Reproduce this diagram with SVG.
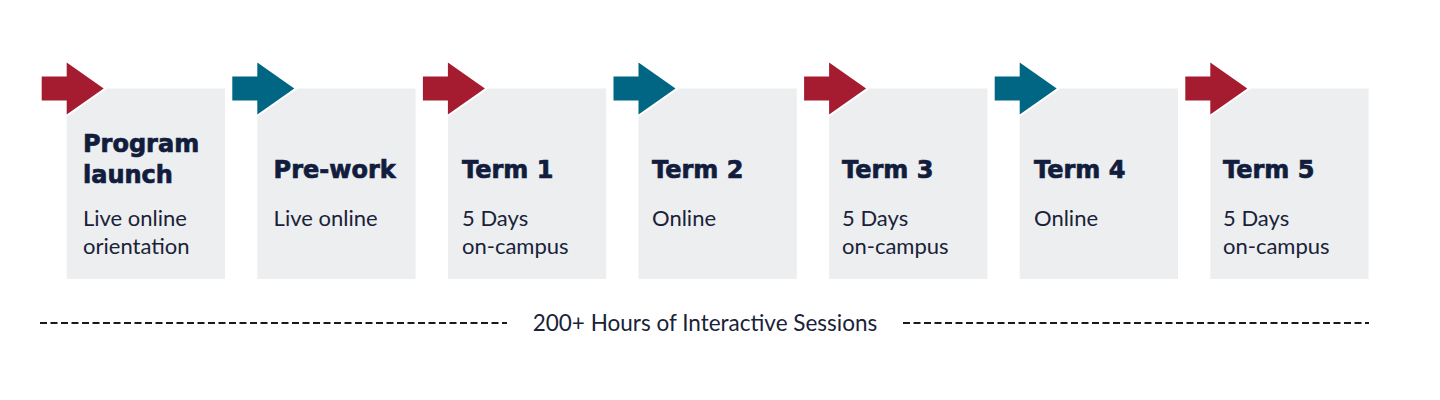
<svg xmlns="http://www.w3.org/2000/svg" width="1440" height="400" viewBox="0 0 1440 400">
<defs>
<style>
.box{fill:#eceef0}
.red{fill:#a51c30;stroke:#ffffff;stroke-width:4;stroke-linejoin:miter;paint-order:stroke}
.teal{fill:#006684;stroke:#ffffff;stroke-width:4;stroke-linejoin:miter;paint-order:stroke}
.title{font-family:"DejaVu Sans",sans-serif;font-weight:bold;font-size:24px;fill:#121d3d;stroke:#121d3d;stroke-width:0.7}
.body{font-family:Lato,"Liberation Sans",sans-serif;font-size:22px;fill:#1a2238}
.dash{stroke:#1a1a1a;stroke-width:2;stroke-dasharray:7 3.5;fill:none}
.cap{font-family:Lato,"Liberation Sans",sans-serif;font-size:22.5px;fill:#1a2238}
</style>
<path id="arr" d="M-25,-12 H0 V-26 L37,0 L0,26 V12 H-25 Z"/>
</defs>
<rect width="1440" height="400" fill="#ffffff"/>

<g id="n1">
<rect class="box" x="66.7" y="88.5" width="158.3" height="190.5"/>
<use href="#arr" class="red" x="66.7" y="88.5"/>
<text class="title" x="83" y="152">Program</text>
<text class="title" x="83" y="183">launch</text>
<text class="body" x="83" y="226">Live online</text>
<text class="body" x="83" y="254">orientation</text>
</g>
<g id="n2">
<rect class="box" x="257.3" y="88.5" width="158.3" height="190.5"/>
<use href="#arr" class="teal" x="257.3" y="88.5"/>
<text class="title" x="273.6" y="178">Pre-work</text>
<text class="body" x="273.6" y="226">Live online</text>
</g>
<g id="n3">
<rect class="box" x="447.9" y="88.5" width="158.3" height="190.5"/>
<use href="#arr" class="red" x="447.9" y="88.5"/>
<text class="title" x="462" y="178">Term 1</text>
<text class="body" x="462" y="226">5 Days</text>
<text class="body" x="462" y="254">on-campus</text>
</g>
<g id="n4">
<rect class="box" x="638.5" y="88.5" width="158.3" height="190.5"/>
<use href="#arr" class="teal" x="638.5" y="88.5"/>
<text class="title" x="652" y="178">Term 2</text>
<text class="body" x="652" y="226">Online</text>
</g>
<g id="n5">
<rect class="box" x="829.1" y="88.5" width="158.3" height="190.5"/>
<use href="#arr" class="red" x="829.1" y="88.5"/>
<text class="title" x="842" y="178">Term 3</text>
<text class="body" x="842" y="226">5 Days</text>
<text class="body" x="842" y="254">on-campus</text>
</g>
<g id="n6">
<rect class="box" x="1019.7" y="88.5" width="158.3" height="190.5"/>
<use href="#arr" class="teal" x="1019.7" y="88.5"/>
<text class="title" x="1034" y="178">Term 4</text>
<text class="body" x="1034" y="226">Online</text>
</g>
<g id="n7">
<rect class="box" x="1210.3" y="88.5" width="158.3" height="190.5"/>
<use href="#arr" class="red" x="1210.3" y="88.5"/>
<text class="title" x="1223" y="178">Term 5</text>
<text class="body" x="1223" y="226">5 Days</text>
<text class="body" x="1223" y="254">on-campus</text>
</g>

<g id="connectors">
<line class="dash" x1="40" y1="323" x2="507" y2="323"/>
<line class="dash" x1="903" y1="323" x2="1369" y2="323"/>
</g>
<text class="cap" x="705" y="331" text-anchor="middle">200+ Hours of Interactive Sessions</text>
</svg>
